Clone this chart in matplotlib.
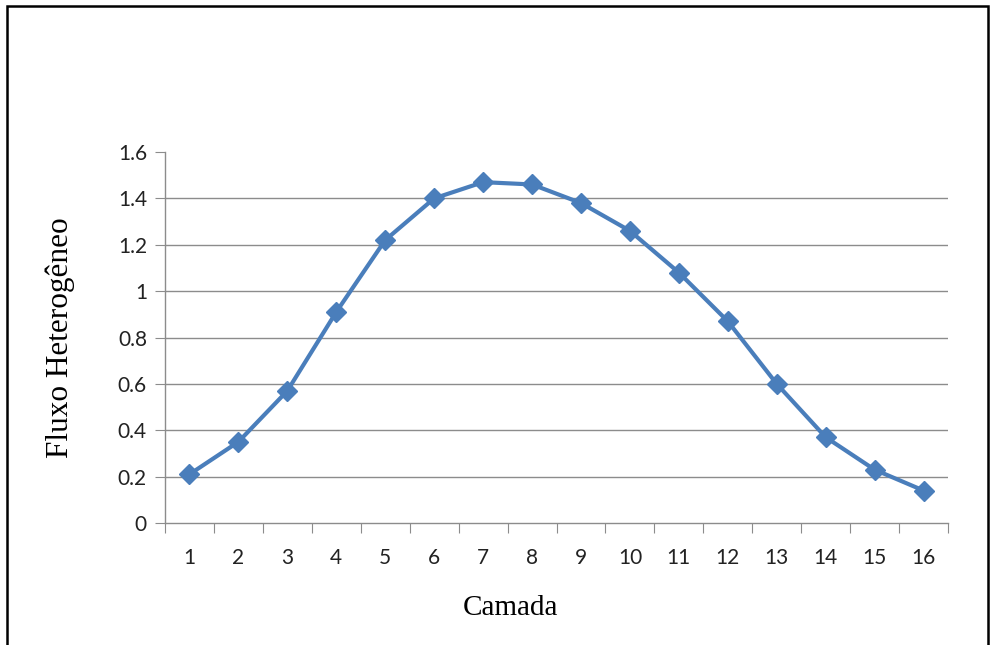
import matplotlib.pyplot as plt
from matplotlib.patches import Rectangle

camadas = list(range(1, 17))
fluxo = [0.21, 0.35, 0.57, 0.91, 1.22, 1.40, 1.47, 1.46,
         1.38, 1.26, 1.08, 0.87, 0.60, 0.37, 0.23, 0.14]
yticks = [0, 0.2, 0.4, 0.6, 0.8, 1, 1.2, 1.4, 1.6]
ytick_labels = ['0', '0.2', '0.4', '0.6', '0.8', '1', '1.2', '1.4', '1.6']

W, H = 990, 645
fig = plt.figure(figsize=(W / 100, H / 100), dpi=100)
ax = fig.add_axes([165 / W, 1 - 523 / H, (948 - 165) / W, (523 - 152) / H])

ax.plot(camadas, fluxo, color='#4A7EBB', lw=3, marker='D', ms=10,
        mfc='#4A7EBB', mec='#4A7EBB', zorder=3, clip_on=False)

ax.set_xlim(0.5, 16.5)
ax.set_ylim(0, 1.6)
ax.set_yticks(yticks)
ax.set_yticklabels(ytick_labels)
# gridlines except at the top value
for v in yticks[1:-1]:
    ax.axhline(v, color='#8C8C8C', lw=1, zorder=1)

ax.set_xticks([c + 0.5 for c in [0] + camadas])
ax.set_xticklabels([])
ax.set_xticks(camadas, minor=True)
ax.set_xticklabels([str(c) for c in camadas], minor=True)
ax.tick_params(axis='x', which='minor', length=0, pad=18)
ax.tick_params(axis='x', which='major', length=7, color='#8C8C8C', direction='out')
ax.tick_params(axis='y', length=7, color='#8C8C8C', pad=6)
for lab in ax.get_xticklabels(minor=True) + ax.get_yticklabels():
    lab.set_fontfamily('Lato')
    lab.set_fontsize(15)
    lab.set_color('#222222')

for s in ['top', 'right']:
    ax.spines[s].set_visible(False)
for s in ['left', 'bottom']:
    ax.spines[s].set_color('#8C8C8C')
    ax.spines[s].set_linewidth(1)

fig.text(60 / W, 1 - 338 / H, 'Fluxo Heterogêneo', rotation=90, ha='center',
         va='center', family='Liberation Serif', fontsize=22.5)
fig.text(510 / W, 1 - 608 / H, 'Camada', ha='center', va='center',
         family='Liberation Serif', fontsize=21)

fig.patches.append(Rectangle((7 / W, -0.05), (988 - 7) / W, 1.05 - 6 / H,
                             transform=fig.transFigure, fill=False,
                             ec='black', lw=1.8))

fig.savefig('out.png', dpi=100)
